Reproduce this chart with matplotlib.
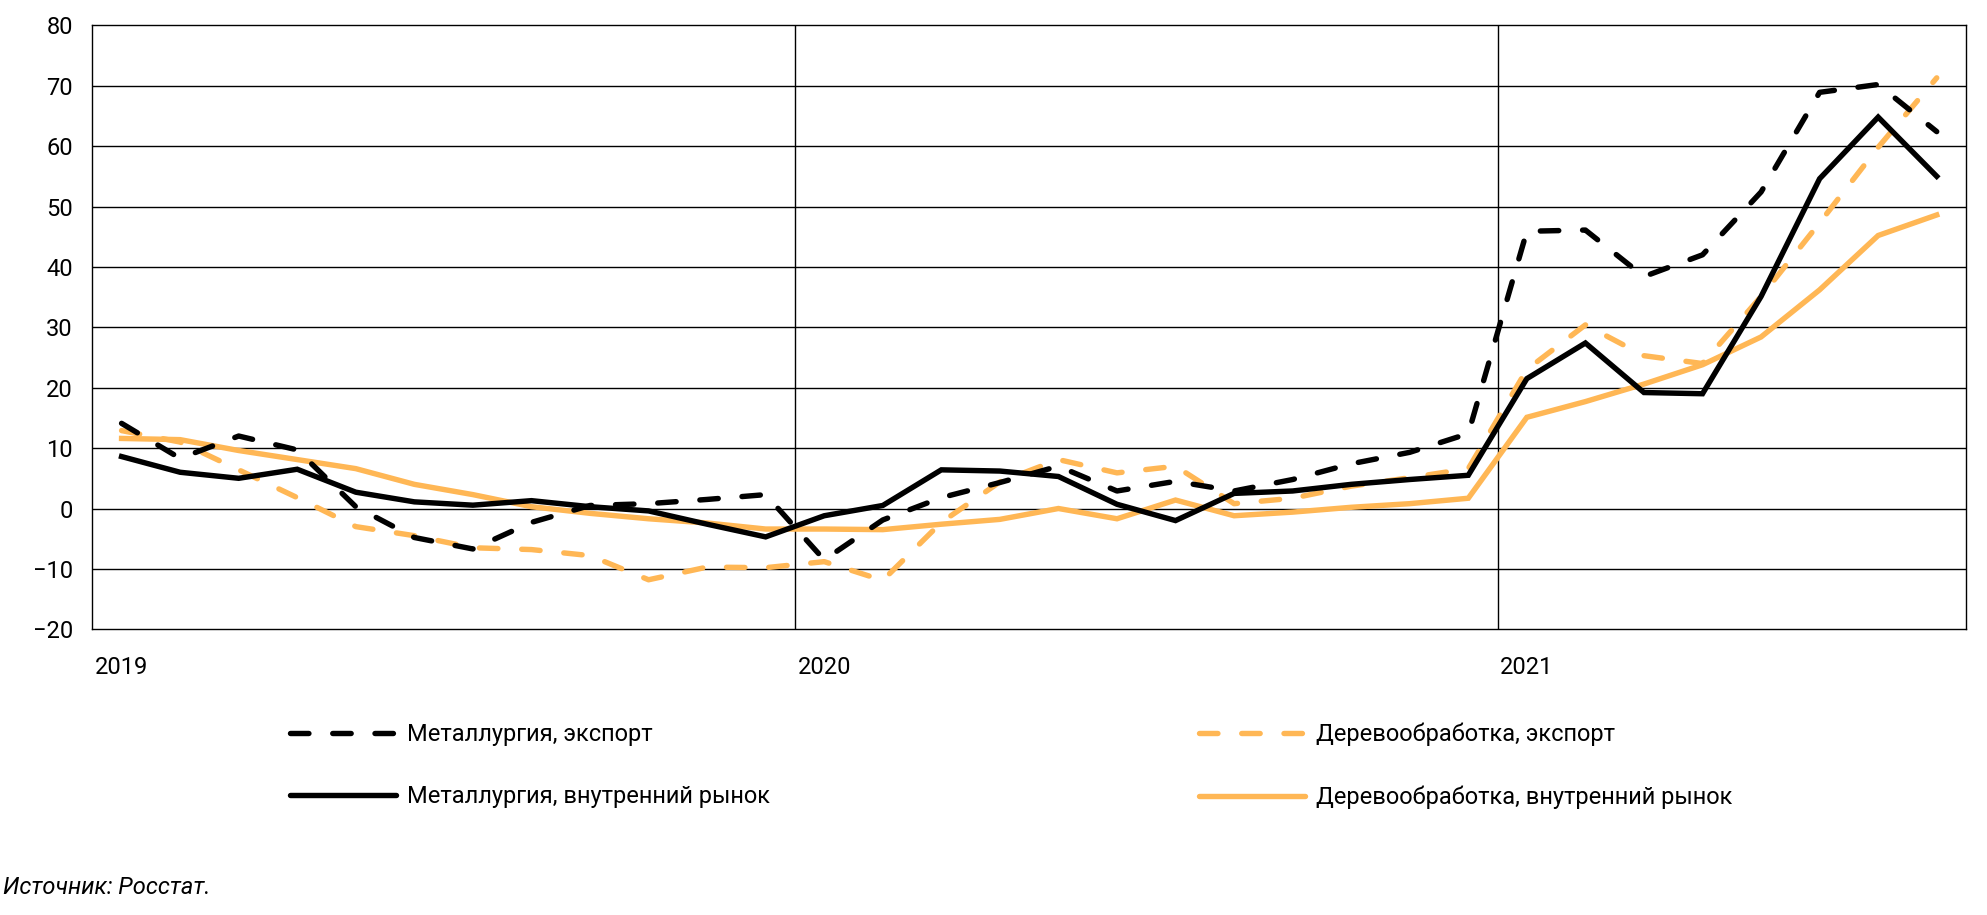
import matplotlib
matplotlib.use("Agg")
import matplotlib.pyplot as plt
from matplotlib.lines import Line2D

plt.rcParams['font.family'] = ['Roboto', 'DejaVu Sans']

# Monthly data, Jan 2019 - Aug 2021
months = list(range(32))
year_labels = ["2019", "2020", "2021"]
year_ticks = [0, 12, 24]

metal_export = [14.1, 8.3, 12.0, 9.7, 0.3, -4.8, -6.7, -2.3, 0.5, 0.8, 1.5, 2.3,
                -8.5, -1.9, 1.8, 4.3, 7.0, 2.9, 4.5, 2.9, 4.8, 7.4, 9.3, 12.4,
                45.9, 46.1, 38.4, 42.0, 52.4, 68.9, 70.2, 62.4]
metal_domestic = [8.6, 6.0, 5.0, 6.5, 2.7, 1.1, 0.55, 1.3, 0.3, -0.4, -2.6, -4.7,
                  -1.2, 0.5, 6.4, 6.2, 5.3, 0.7, -2.0, 2.5, 2.9, 4.0, 4.8, 5.5,
                  21.5, 27.4, 19.2, 19.0, 35.1, 54.6, 64.8, 55.0]
wood_export = [12.9, 11.0, 6.4, 1.8, -3.0, -4.5, -6.5, -6.8, -7.8, -11.8, -9.7, -9.8,
               -8.8, -11.9, -2.3, 4.4, 8.1, 5.9, 7.0, 0.8, 1.7, 3.7, 5.1, 6.6,
               23.0, 30.4, 25.3, 24.0, 35.1, 47.3, 59.8, 71.3]
wood_domestic = [11.6, 11.4, 9.6, 8.1, 6.6, 4.0, 2.3, 0.3, -0.8, -1.7, -2.4, -3.4,
                 -3.4, -3.5, -2.6, -1.8, 0.0, -1.7, 1.4, -1.2, -0.6, 0.2, 0.8, 1.7,
                 15.1, 17.7, 20.6, 23.8, 28.4, 36.2, 45.2, 48.6]

labels = ["Металлургия, экспорт", "Металлургия, внутренний рынок",
          "Деревообработка, экспорт", "Деревообработка, внутренний рынок"]
source_text = "Источник: Росстат."

BLACK = "#000000"
ORANGE = "#FFB755"
FS = 17

W, H = 1987, 915
L, R, T, B = 92.3, 1966.0, 25.3, 629.3
fig = plt.figure(figsize=(W / 100, H / 100), dpi=100)
ax = fig.add_axes([L / W, 1 - B / H, (R - L) / W, (B - T) / H])

lw = 3.9
dash = (0, (3.4, 4.4))
kw_dash = dict(linestyle=dash, dash_capstyle='round')
ax.plot(months, wood_domestic, color=ORANGE, lw=lw, solid_joinstyle='miter', zorder=3)
ax.plot(months, wood_export, color=ORANGE, lw=lw, zorder=3, **kw_dash)
ax.plot(months, metal_domestic, color=BLACK, lw=lw, solid_joinstyle='miter', zorder=4)
ax.plot(months, metal_export, color=BLACK, lw=lw, zorder=4, **kw_dash)

ax.set_xlim(-0.5, 31.5)
ax.set_ylim(-20, 80)
ax.set_yticks(range(-20, 81, 10))
ax.set_xticks(year_ticks)
ax.set_xticklabels(year_labels)
ax.tick_params(axis='both', length=0, labelsize=FS)
ax.tick_params(axis='x', pad=19)
ax.tick_params(axis='y', pad=14)
for v in range(-10, 80, 10):
    ax.axhline(v, color=BLACK, lw=1.0, zorder=1)
for xv in [11.5, 23.5]:
    ax.axvline(xv, color=BLACK, lw=1.0, zorder=1)
for s in ax.spines.values():
    s.set_linewidth(1.0)
    s.set_color(BLACK)

# Legends (two columns)
h_me = Line2D([], [], color=BLACK, lw=lw, **kw_dash)
h_md = Line2D([], [], color=BLACK, lw=lw, solid_capstyle='round')
h_we = Line2D([], [], color=ORANGE, lw=lw, **kw_dash)
h_wd = Line2D([], [], color=ORANGE, lw=lw, solid_capstyle='round')

common = dict(frameon=False, fontsize=FS, handlelength=4.5, handletextpad=0.45,
              labelspacing=1.65, borderpad=0, borderaxespad=0, loc='upper left')
fig.legend([h_me, h_md], labels[:2], bbox_to_anchor=(290 / W, 1 - 723 / H), **common)
fig.legend([h_we, h_wd], labels[2:], bbox_to_anchor=(1199 / W, 1 - 723 / H), **common)

fig.text(3 / W, 1 - 888 / H, source_text, fontsize=FS, style='italic', va='center', ha='left')

fig.savefig("out.png", dpi=100)
